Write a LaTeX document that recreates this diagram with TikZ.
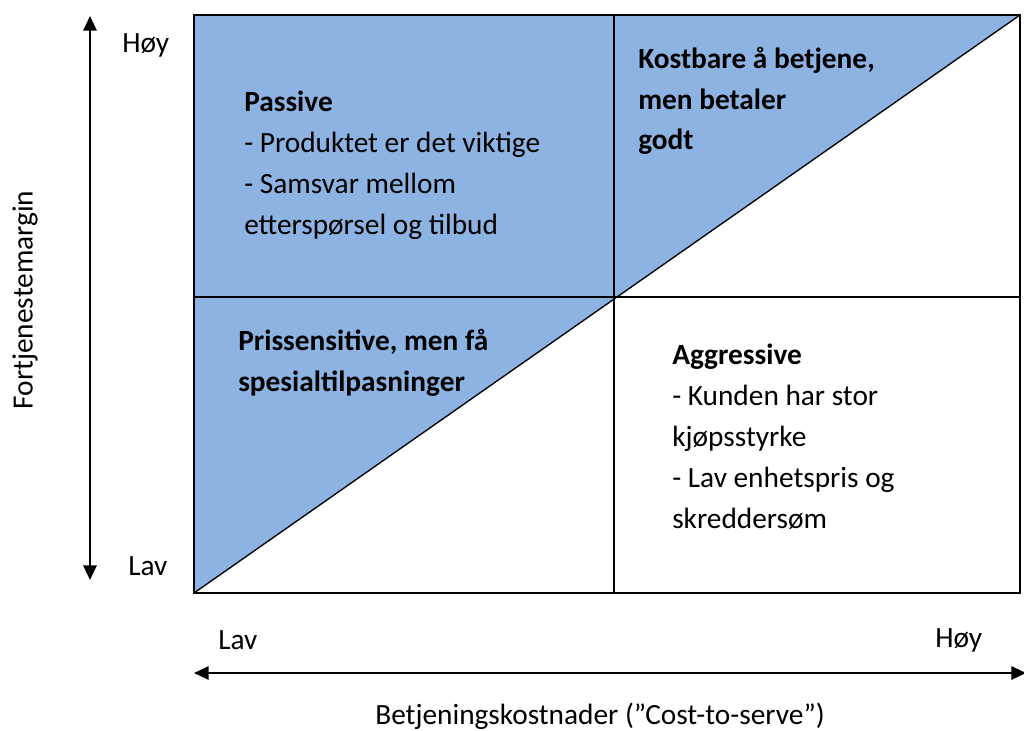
\documentclass[tikz,border=0pt]{standalone}
\usepackage{fontspec}
\setmainfont{Carlito}
\usetikzlibrary{arrows.meta}

\tikzset{
  kvadrant/.style={anchor=base west, align=left, inner sep=0pt, font=\fontsize{22}{30.6}\selectfont},
  akse/.style={font=\fontsize{22}{26}\selectfont, inner sep=0pt},
  pil/.style={line width=1.5pt, -{Triangle[width=10pt,length=11pt]}}
}

\begin{document}
\begin{tikzpicture}[x=0.75pt, y=-0.75pt]
				\useasboundingbox (0,0) rectangle (1024,731);

				% felt over diagonalen
				\fill[fill={rgb,255:red,141;green,179;blue,226}] (194,15) -- (1020,15) -- (194,593) -- cycle;
				\draw[line width=1.5pt] (194,15) rectangle (1020,593);
				\draw[line width=1.5pt] (614,15) -- (614,593);
				\draw[line width=1.5pt] (194,297) -- (1020,297);
				\draw[line width=1pt] (194,593) -- (1020,15);

				% akser
				\coordinate (ytopp) at (90,16);
				\coordinate (ybunn) at (90,580);
				\draw[pil] (90,297) -- (ytopp);
				\draw[pil] (90,297) -- (ybunn);
				\coordinate (xvenstre) at (194,673);
				\coordinate (xhoyre) at (1026,673);
				\draw[pil] (610,673) -- (xvenstre);
				\draw[pil] (610,673) -- (xhoyre);

				\node[akse, anchor=west] (yhoy) at (122,45) {Høy};
				\node[akse, anchor=west] (ylav) at (128,566) {Lav};
				\node[akse, anchor=west] (xlav) at (218,640) {Lav};
				\node[akse, anchor=west] (xhoy) at (935,640) {Høy};
				\node[akse] (xtittel) at (600,716) {Betjeningskostnader (”Cost-to-serve”)};
				\node[akse, rotate=90] (ytittel) at (25,300) {Fortjenestemargin};

				% kvadranter (ankret i siste linjes grunnlinje)
				\node[kvadrant] (passive) at (244,234) {\textbf{Passive}\\- Produktet er det viktige\\- Samsvar mellom\\etterspørsel og tilbud};
				\node[kvadrant] (kostbare) at (638,150) {\textbf{Kostbare å betjene,}\\\textbf{men betaler}\\\textbf{godt}};
				\node[kvadrant] (pris) at (238,391) {\textbf{Prissensitive, men få}\\\textbf{spesialtilpasninger}};
				\node[kvadrant] (aggressive) at (672,528) {\textbf{Aggressive}\\- Kunden har stor\\kjøpsstyrke\\- Lav enhetspris og\\skreddersøm};
			\end{tikzpicture}
\end{document}
